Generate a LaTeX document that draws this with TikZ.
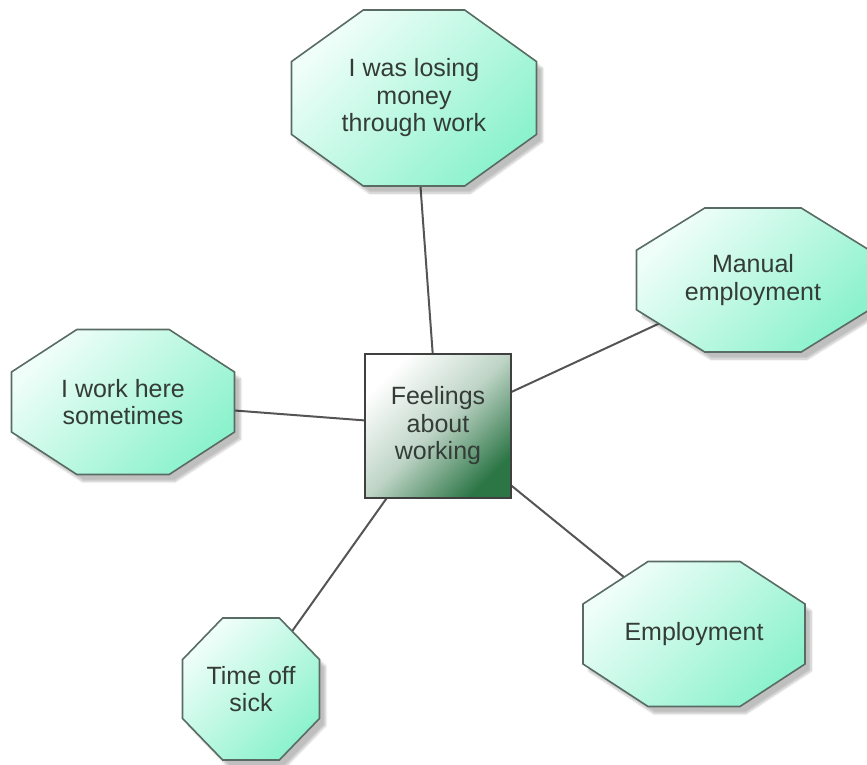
\documentclass[tikz,border=0pt]{standalone}
\usepackage{fontspec}
\setmainfont{Liberation Sans}
\usetikzlibrary{calc,shadows.blur}
\definecolor{mintlight}{RGB}{240,254,249}
\definecolor{mintdark}{RGB}{140,242,206}
\definecolor{edgegray}{RGB}{88,108,100}
\definecolor{hubgreen}{RGB}{44,118,70}
\definecolor{hubmid}{RGB}{190,212,198}
\definecolor{inkgray}{RGB}{52,60,56}
\definecolor{linkgray}{RGB}{85,85,85}
\pgfdeclarelayer{links}
\pgfdeclarelayer{background}
\pgfsetlayers{links,background,main}
\begin{document}
\begin{tikzpicture}[
    x=1pt, y=-1pt,
    font=\fontsize{25}{27.5}\selectfont,
    idea/.style 2 args={
      rectangle, minimum width=#1pt, minimum height=#2pt,
      inner sep=0pt, outer sep=0pt, text=inkgray, align=center
    },
    octa/.style={
      draw=edgegray, line width=1.6pt, line join=miter,
      shading=axis, top color=mintlight, bottom color=mintdark, shading angle=45,
      blur shadow={shadow xshift=6pt, shadow yshift=-7pt, shadow blur steps=8, shadow opacity=25}
    },
    hub/.style={
      rectangle, draw=black!75, line width=2pt,
      minimum width=146pt, minimum height=144pt, inner sep=0pt,
      shading=axis, top color=white, bottom color=hubgreen, middle color=hubmid,
      shading angle=45,
      text=inkgray, align=center
    },
    link/.style={draw=linkgray, line width=2pt}
  ]
  \useasboundingbox (0,0) rectangle (867,765);
  \node[hub] (feel) at (438,426) {Feelings\\about\\working};
  \node[idea={245}{176}] (money) at (414,98) {I was losing\\money\\through work};
  \node[idea={233}{144}] (manual) at (753,280) {Manual\\employment};
  \node[idea={223}{145}] (sometimes) at (123,402) {I work here\\sometimes};
  \node[idea={222}{145}] (employ) at (694,634) {Employment};
  \node[idea={137}{142}] (sick) at (251,689) {Time off\\sick};
  % octagons behind the texts
  \begin{pgfonlayer}{background}
    \foreach \n in {money,manual,sometimes,employ,sick}
      \path[octa] ($(\n.north west)!0.293!(\n.north east)$)
        -- ($(\n.north east)!0.293!(\n.north west)$)
        -- ($(\n.north east)!0.293!(\n.south east)$)
        -- ($(\n.south east)!0.293!(\n.north east)$)
        -- ($(\n.south east)!0.293!(\n.south west)$)
        -- ($(\n.south west)!0.293!(\n.south east)$)
        -- ($(\n.south west)!0.293!(\n.north west)$)
        -- ($(\n.north west)!0.293!(\n.south west)$) -- cycle;
  \end{pgfonlayer}
  % spokes
  \begin{pgfonlayer}{links}
    \foreach \n in {money,manual,sometimes,employ,sick}
      \draw[link] (feel.center) -- (\n.center);
  \end{pgfonlayer}
\end{tikzpicture}
\end{document}
